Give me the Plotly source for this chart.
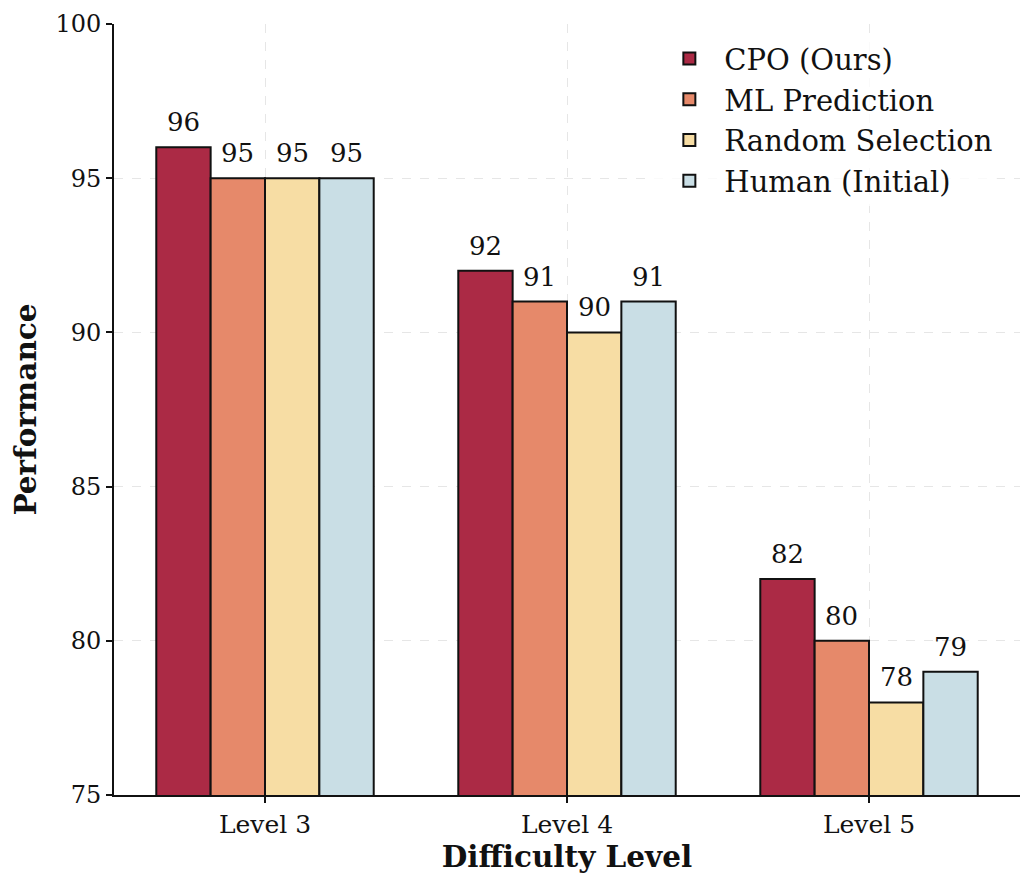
import plotly.graph_objects as go

levels = ["Level 3", "Level 4", "Level 5"]
methods = ["CPO (Ours)", "ML Prediction", "Random Selection", "Human (Initial)"]
cpo = [96, 92, 82]
ml = [95, 91, 80]
rnd = [95, 90, 78]
human = [95, 91, 79]
colors = ["#AB2A45", "#E6896A", "#F7DDA4", "#C9DEE5"]
series = [cpo, ml, rnd, human]

font = "DejaVu Serif"
bar_w = 0.18
fig = go.Figure()
annotations = []
for k, (name, vals, col) in enumerate(zip(methods, series, colors)):
    off = (k - 1.5) * bar_w
    xs = [i + off for i in range(len(levels))]
    fig.add_trace(go.Bar(
        x=xs, y=vals, name=name, width=bar_w,
        marker=dict(color=col, line=dict(color="#111111", width=2)),
    ))
    for x, v in zip(xs, vals):
        annotations.append(dict(x=x, y=v, text=str(v), showarrow=False,
                                yanchor="bottom", yshift=8,
                                font=dict(family=font, size=26, color="#111111")))

fig.update_layout(
    width=1027, height=877,
    barmode="overlay",
    plot_bgcolor="white", paper_bgcolor="white",
    margin=dict(l=106, r=15, t=16, b=90),
    font=dict(family=font, color="#111111"),
    annotations=annotations,
    legend=dict(x=0.975, y=0.988, xanchor="right", yanchor="top",
                font=dict(family=font, size=29), bgcolor="rgba(255,255,255,0.8)",
                itemwidth=60),
    xaxis=dict(
        title=dict(text="<b>Difficulty Level</b>", font=dict(family=font, size=29.5), standoff=6),
        range=[-0.5, 2.5], tickvals=list(range(len(levels))), ticktext=levels,
        tickfont=dict(family=font, size=25),
        showline=True, linecolor="#111111", linewidth=1.8,
        ticks="outside", ticklen=6, tickwidth=1.5, tickcolor="#111111",
        showgrid=True, gridcolor="rgba(200,200,200,0.45)", griddash="dash", gridwidth=1,
        zeroline=False, automargin=False,
    ),
    yaxis=dict(
        title=dict(text="<b>Performance</b>", font=dict(family=font, size=29.5), standoff=12),
        range=[75, 100], tickvals=[75, 80, 85, 90, 95, 100],
        tickfont=dict(family=font, size=24),
        showline=True, linecolor="#111111", linewidth=1.8,
        ticks="outside", ticklen=6, tickwidth=1.5, tickcolor="#111111",
        showgrid=True, gridcolor="rgba(200,200,200,0.45)", griddash="dash", gridwidth=1,
        zeroline=False, automargin=False,
    ),
)
fig.write_html("out.html")
